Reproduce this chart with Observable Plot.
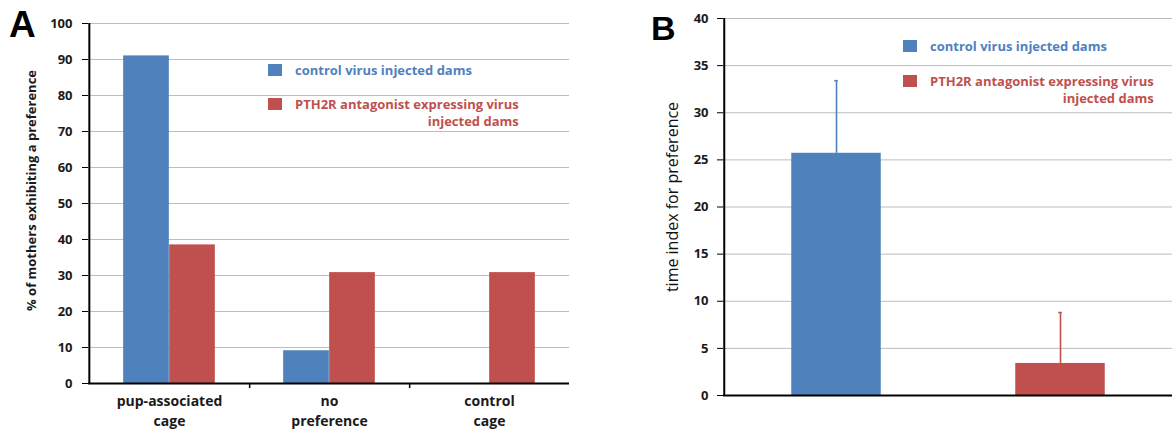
<!DOCTYPE html>
<html><head><meta charset="utf-8">
<script src="https://cdn.jsdelivr.net/npm/d3@7"></script>
<script src="https://cdn.jsdelivr.net/npm/@observablehq/plot@0.6"></script>
<style>
body{margin:0;background:#fff;}
#wrap{position:relative;width:1172px;height:430px;overflow:hidden;font-family:"Open Sans",sans-serif;}
.panel{position:absolute;top:0;}
.letter{position:absolute;font-weight:bold;font-family:"Liberation Sans",Arial,sans-serif;color:#000;line-height:1;}
.leg{position:absolute;font-weight:700;font-size:13px;line-height:17px;white-space:nowrap;}
.sw{position:absolute;width:14px;height:12px;}
</style></head>
<body><div id="wrap"></div>
<script>
// ---- data ----
const categories = ["pup-associated\ncage", "no\npreference", "control\ncage"];
const seriesNames = ["control virus injected dams", "PTH2R antagonist expressing virus injected dams"];
const controlPct = [91, 9.1, 0];
const pth2rPct = [38.5, 30.8, 30.8];
const groupsB = ["control", "PTH2R"];
const timeIndex = [25.7, 3.4];
const timeIndexErr = [7.7, 5.4];
const yTicksA = [0, 10, 20, 30, 40, 50, 60, 70, 80, 90, 100];
const yTicksB = [0, 5, 10, 15, 20, 25, 30, 35, 40];
const labelA = "% of mothers exhibiting a preference";
const labelB = "time index for preference";
const colors = ["#4F81BD", "#C0504D"];

const rowsA0 = categories.map((c, i) => ({cat: c, value: controlPct[i]}));
const rowsA1 = categories.map((c, i) => ({cat: c, value: pth2rPct[i]}));
const rowsB = groupsB.map((g, i) => ({g, v: timeIndex[i], e: timeIndexErr[i]}));

const wrap = document.getElementById("wrap");
const tickStyle = {fontSize: 13, fontWeight: "bold", fill: "#1a1a1a", stroke: "#000"};

// ---- panel A ----
const wA = 600, mLA = 88, mRA = 31;
const bwA = (wA - mLA - mRA) / categories.length;
const plotA = Plot.plot({
  width: wA, height: 430,
  marginLeft: mLA, marginRight: mRA, marginTop: 23, marginBottom: 47,
  style: {fontFamily: "'Open Sans', sans-serif", background: "transparent", overflow: "visible"},
  x: {domain: categories, padding: 0, axis: null},
  y: {domain: [0, 100], axis: null},
  marks: [
    Plot.gridY(yTicksA.slice(1), {stroke: "#bdbdbd", strokeOpacity: 1, strokeWidth: 1}),
    Plot.barY(rowsA0, {x: "cat", y: "value", fill: colors[0], dx: -23, insetLeft: bwA / 2 - 23, insetRight: bwA / 2 - 23}),
    Plot.barY(rowsA1, {x: "cat", y: "value", fill: colors[1], dx: 23, insetLeft: bwA / 2 - 23, insetRight: bwA / 2 - 23}),
    Plot.ruleY([0], {stroke: "#000", strokeWidth: 2}),
    Plot.ruleX([categories[0]], {y1: 0, y2: 100, dx: -bwA / 2, stroke: "#000", strokeWidth: 2}),
    Plot.ruleX(categories.slice(0, 2), {y1: 0, y2: 0, dx: bwA / 2, insetBottom: -5, stroke: "#000", strokeWidth: 1.5}),
    Plot.axisY(yTicksA, {...tickStyle, tickSize: 6, tickPadding: 10, label: null}),
    Plot.axisX({fontSize: 14, fontWeight: "bold", fill: "#1a1a1a", tickSize: 0, tickPadding: 9, lineHeight: 1.4, label: null}),
    Plot.text([labelA], {frameAnchor: "left", textAnchor: "middle", rotate: -90, dx: -57, dy: -13, fontSize: 13, fontWeight: "bold", fill: "#1a1a1a"})
  ]
});
plotA.classList.add("panel");
plotA.style.left = "0px";
wrap.appendChild(plotA);

// ---- panel B ----
const wB = 572, mLB = 123, mRB = 0;
const bwB = (wB - mLB - mRB) / groupsB.length;
const plotB = Plot.plot({
  width: wB, height: 430,
  marginLeft: mLB, marginRight: mRB, marginTop: 18, marginBottom: 35,
  style: {fontFamily: "'Open Sans', sans-serif", background: "transparent", overflow: "visible"},
  x: {domain: groupsB, padding: 0, axis: null},
  y: {domain: [0, 40], axis: null},
  color: {domain: groupsB, range: colors},
  marks: [
    Plot.gridY(yTicksB.slice(1), {stroke: "#bdbdbd", strokeOpacity: 1, strokeWidth: 1}),
    Plot.barY(rowsB, {x: "g", y: "v", fill: "g", insetLeft: bwB / 2 - 45, insetRight: bwB / 2 - 45}),
    Plot.ruleX(rowsB, {x: "g", y1: "v", y2: d => d.v + d.e, stroke: "g", strokeWidth: 1.6}),
    Plot.tickY(rowsB, {x: "g", y: d => d.v + d.e, stroke: "g", strokeWidth: 1.6, insetLeft: bwB / 2 - 2, insetRight: bwB / 2 - 2}),
    Plot.ruleY([0], {stroke: "#000", strokeWidth: 2}),
    Plot.ruleX([groupsB[0]], {y1: 0, y2: 40, dx: -bwB / 2, stroke: "#000", strokeWidth: 2}),
    Plot.axisY(yTicksB, {...tickStyle, tickSize: 6, tickPadding: 9, label: null}),
    Plot.text([labelB], {frameAnchor: "left", textAnchor: "middle", rotate: -90, dx: -51, dy: -10, fontSize: 16, fontWeight: "normal", fill: "#111"})
  ]
});
plotB.classList.add("panel");
plotB.style.left = "600px";
wrap.appendChild(plotB);

// ---- panel letters and legends ----
function el(cls, css, html) {
  const d = document.createElement("div");
  d.className = cls;
  Object.assign(d.style, css);
  if (html != null) d.innerHTML = html;
  wrap.appendChild(d);
  return d;
}
el("letter", {left: "9px", top: "6px", fontSize: "37px"}, "A");
el("letter", {left: "651px", top: "11px", fontSize: "34px"}, "B");

function legend(x, yBlue, yRed) {
  el("sw", {left: x + "px", top: (yBlue - 6) + "px", background: colors[0]});
  el("leg", {left: (x + 27) + "px", top: (yBlue - 8.5) + "px", color: colors[0]}, seriesNames[0]);
  el("sw", {left: x + "px", top: (yRed - 6) + "px", background: colors[1]});
  const words = seriesNames[1].split(" ");
  el("leg", {left: (x + 27) + "px", top: (yRed - 8.5) + "px", color: colors[1], textAlign: "right"},
     words.slice(0, 4).join(" ") + "<br>" + words.slice(4).join(" "));
}
legend(268, 70, 104);
legend(903, 46, 81);
</script>
</body></html>
